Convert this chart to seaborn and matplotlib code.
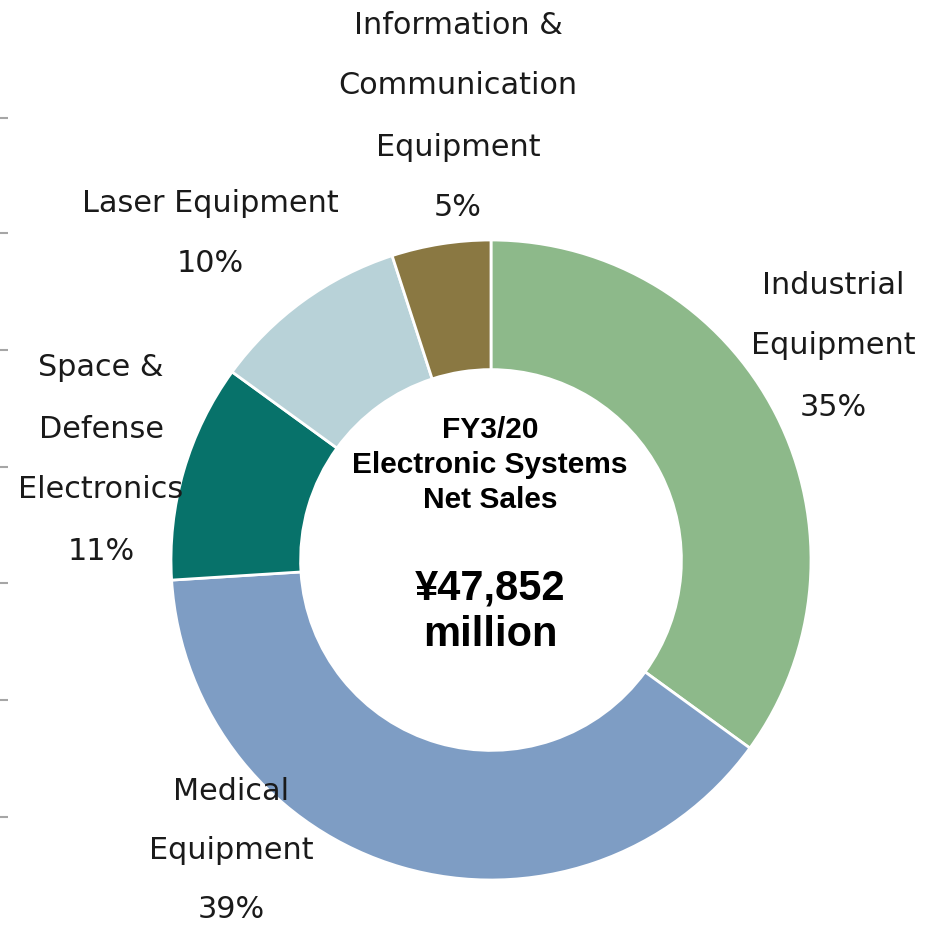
import matplotlib
matplotlib.use("Agg")
import matplotlib.pyplot as plt
import seaborn as sns

# Segment data (share of net sales, %), drawn clockwise from 12 o'clock
segments = ["Industrial\nEquipment", "Medical\nEquipment",
            "Space &\nDefense\nElectronics", "Laser Equipment",
            "Information &\nCommunication\nEquipment"]
shares = [35, 39, 11, 10, 5]
colors = ["#8DB98A", "#7E9DC4", "#07726A", "#B8D2D8", "#8A7842"]

center_title = "FY3/20\nElectronic Systems\nNet Sales"
center_amount = "¥47,852\nmillion"

# Left-edge axis ticks (figure pixels from top)
edge_ticks = [118, 233, 350, 467, 583, 700, 817]

sns.set_theme(style="white")
plt.rcParams["font.family"] = ["DejaVu Sans"]

W, H = 936, 925
fig = plt.figure(figsize=(W / 100, H / 100), dpi=100)
fig.patch.set_facecolor("white")

# background axes carrying the faint tick marks on the left edge
bg = fig.add_axes([0, 0, 1, 1], zorder=0)
bg.set_xlim(0, W)
bg.set_ylim(H, 0)
bg.set_yticks(edge_ticks)
bg.set_yticklabels([])
bg.set_xticks([])
bg.tick_params(axis="y", direction="in", length=6, width=1.5,
               color="#A6A6A6", left=True, pad=0)
for s in bg.spines.values():
    s.set_visible(False)
bg.patch.set_alpha(0)

# donut axes: 1 data unit = 320 px, centre at (491, 560) px from top-left
R = 320.0
cx, cy = 491.0, 560.0
ax = fig.add_axes([0, 0, 1, 1], zorder=1)
ax.patch.set_alpha(0)
ax.pie(shares, colors=colors, startangle=90, counterclock=False,
       radius=1.0, center=(0, 0),
       wedgeprops=dict(width=0.405, edgecolor="white", linewidth=2))
ax.set_xlim(-cx / R, (W - cx) / R)
ax.set_ylim(-(H - cy) / R, cy / R)
ax.set_aspect("equal", adjustable="box")
ax.axis("off")


def px(x, y):
    return (x - cx) / R, (cy - y) / R


# outer labels: centre of first line in pixels and spacing between lines
label_pos = [(833, 282), (231, 788), (101, 365), (210, 200), (458, 22)]
label_step = [61, 59.5, 61, 60, 61]
for name, val, (lx, ly), step in zip(segments, shares, label_pos, label_step):
    lines = name.split("\n") + [f"{val}%"]
    for i, line in enumerate(lines):
        x, y = px(lx, ly + i * step)
        ax.text(x, y, line, ha="center", va="center_baseline",
                fontsize=21.8, color="#1a1a1a", family="DejaVu Sans")

# centre text
x, y = px(490, 465)
ax.text(x, y, center_title, ha="center", va="center", fontsize=21.5,
        fontweight="bold", family="Liberation Sans", linespacing=1.32,
        color="black")
x, y = px(490, 612)
ax.text(x, y, center_amount, ha="center", va="center", fontsize=30,
        fontweight="bold", family="Liberation Sans", linespacing=1.2,
        color="black")

fig.savefig("out.png", dpi=100, facecolor="white")
